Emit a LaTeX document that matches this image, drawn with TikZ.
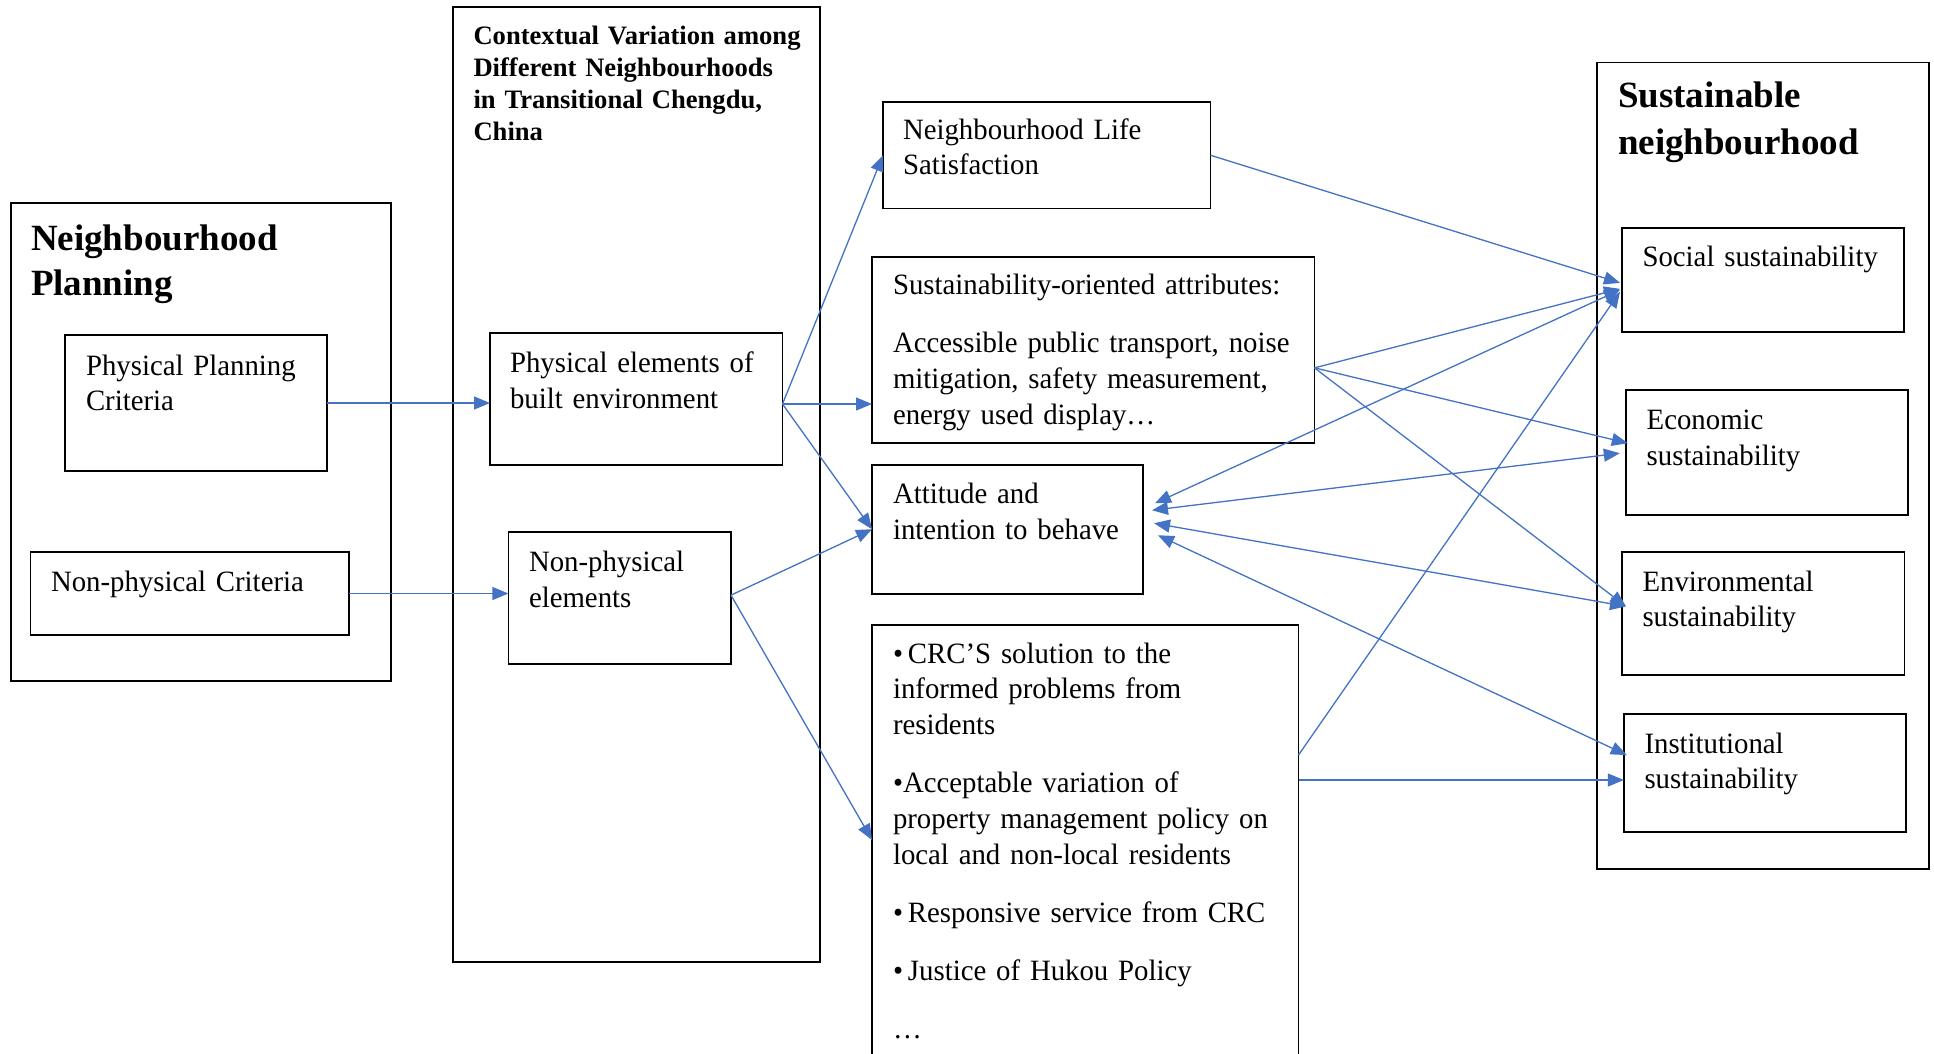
\documentclass[tikz,border=0pt]{standalone}
\usepackage{fontspec}
\setmainfont{Liberation Serif}
\newfontfamily\bodyfont{Liberation Serif}[FakeStretch=0.976]
\usetikzlibrary{arrows.meta,calc}
\definecolor{arrblue}{HTML}{4472C4}
\begin{document}
\begin{tikzpicture}[x=1pt,y=-1pt,
  box/.style={draw=black, line width=1.8pt, rectangle, inner sep=0pt, outer sep=0pt, anchor=north west},
  txt/.style={anchor=base west, inner sep=0pt, outer sep=0pt, align=left, text width=#1, font=\bodyfont\fontsize{29.5}{35.8}\selectfont},
  txt/.default=440pt,
  bigttl/.style={anchor=base west, inner sep=0pt, outer sep=0pt, align=left, text width=360pt, font=\fontsize{37}{#1}\selectfont\bfseries},
  midttl/.style={anchor=base west, inner sep=0pt, outer sep=0pt, align=left, text width=340pt, font=\fontsize{26.6}{32.1}\selectfont\bfseries},
  arr/.style={draw=arrblue, line width=1.3pt, -{Triangle[length=16pt,width=13pt]}},
  darr/.style={draw=arrblue, line width=1.3pt, {Triangle[length=16pt,width=13pt]}-{Triangle[length=16pt,width=13pt]}}
]
\useasboundingbox (0,0) rectangle (1934,1053);
\fill[white] (0,0) rectangle (1934,1053);

% ---------- left group ----------
\node[box, minimum width=380pt, minimum height=478pt] (np) at (11,203) {};
\node[bigttl=45] (npt) at (31,250) {Neighbourhood\\Planning};
\node[box, minimum width=262pt, minimum height=136pt] (ppc) at (65,335) {};
\node[txt] (ppct) at (86,375) {Physical Planning\\Criteria};
\node[box, minimum width=318.5pt, minimum height=83pt] (npc) at (30.5,552) {};
\node[txt] (npct) at (51,591.5) {Non-physical Criteria};

% ---------- middle group ----------
\node[box, minimum width=367pt, minimum height=955pt] (cv) at (453,7) {};
\node[midttl] (cvt) at (473.5,44.6) {Contextual Variation among\\Different Neighbourhoods\\in Transitional Chengdu,\\China};
\node[box, minimum width=292.5pt, minimum height=132pt] (pe) at (490,333) {};
\node[txt] (pet) at (510,372.8) {Physical elements of\\built environment};
\node[box, minimum width=222.6pt, minimum height=131.7pt] (npe) at (508.4,532.3) {};
\node[txt] (npet) at (529,571.4) {Non-physical\\elements};

% ---------- central column ----------
\node[box, minimum width=327.5pt, minimum height=106.5pt] (nls) at (883,102) {};
\node[txt] (nlst) at (903,139) {Neighbourhood Life\\Satisfaction};
\node[box, minimum width=442.5pt, minimum height=186.3pt] (soa) at (872,256.7) {};
\node[txt] (soat) at (893,294.6) {Sustainability-oriented attributes:\\[22.2pt]Accessible public transport, noise\\mitigation, safety measurement,\\energy used display\ldots};
\node[box, minimum width=271pt, minimum height=129.1pt] (att) at (872,464.7) {};
\node[txt] (attt) at (893,503.6) {Attitude and\\intention to behave};
\node[box, minimum width=426.5pt, minimum height=460pt] (crc) at (872,625) {};
\node[txt] (crct) at (893,663) {•\,CRC’S solution to the\\informed problems from\\residents\\[22.2pt]•Acceptable variation of\\property management policy on\\local and non-local residents\\[22.2pt]•\,Responsive service from CRC\\[22.2pt]•\,Justice of Hukou Policy\\[22.2pt]\ldots};

% ---------- right group ----------
\node[box, minimum width=332pt, minimum height=806.8pt] (sn) at (1597,62.5) {};
\node[bigttl=47] (snt) at (1618,107) {Sustainable\\neighbourhood};
\node[box, minimum width=282pt, minimum height=103.7pt] (soc) at (1622,228) {};
\node[txt=260pt] (soct) at (1642.5,266.5) {Social sustainability};
\node[box, minimum width=281.9pt, minimum height=125pt] (eco) at (1625.8,389.7) {};
\node[txt=250pt] (ecot) at (1646.7,429.5) {Economic\\sustainability};
\node[box, minimum width=282.4pt, minimum height=122.4pt] (env) at (1622,552.2) {};
\node[txt=250pt] (envt) at (1642.5,591) {Environmental\\sustainability};
\node[box, minimum width=282.2pt, minimum height=118.5pt] (ins) at (1623.8,713.8) {};
\node[txt=250pt] (inst) at (1644.5,753) {Institutional\\sustainability};

% ---------- connector points ----------
\coordinate (peo) at ([yshift=-5pt]pe.east);
\coordinate (npo) at ([yshift=3pt]npe.east);
\coordinate (soao) at ([yshift=-18pt]soa.east);
\coordinate (crcin) at ([yshift=-215pt]crc.north west);
\coordinate (crco1) at ([yshift=-130pt]crc.north east);
\coordinate (crco2) at ([yshift=-155pt]crc.north east);
\coordinate (attS) at ([xshift=12pt,yshift=26pt]att.east);
\coordinate (attE) at ([xshift=9pt,yshift=19pt]att.east);
\coordinate (attV) at ([xshift=11pt,yshift=6pt]att.east);
\coordinate (attI) at ([xshift=15pt,yshift=-6pt]att.east);
\coordinate (socA) at ([xshift=-2pt,yshift=-3pt]soc.west);
\coordinate (socB) at ([xshift=-2pt,yshift=-9pt]soc.west);
\coordinate (socC) at ([xshift=-2pt,yshift=-10pt]soc.west);
\coordinate (socD) at ([xshift=-2pt,yshift=-12pt]soc.west);
\coordinate (ecoA) at ([xshift=2pt,yshift=9pt]eco.west);
\coordinate (ecoB) at ([xshift=-6pt,yshift=-1pt]eco.west);
\coordinate (envA) at ([xshift=4pt,yshift=7pt]env.west);
\coordinate (insA) at ([xshift=3pt,yshift=18pt]ins.west);

% ---------- connectors ----------
\draw[arr] (ppc.east) -- (ppc.east -| pe.west);
\draw[arr] (npc.east) -- (npc.east -| npe.west);
\draw[arr] (peo) -- (nls.west);
\draw[arr] (peo) -- (peo -| soa.west);
\draw[arr] (peo) -- (att.west);
\draw[arr] (npo) -- (att.west);
\draw[arr] (npo) -- (crcin);
\draw[arr] (nls.east) -- (socA);
\draw[arr] (soao) -- (socB);
\draw[arr] (soao) -- (ecoA);
\draw[arr] (soao) -- (envA);
\draw[darr] (attS) -- (socC);
\draw[darr] (attE) -- (ecoB);
\draw[darr] (attV) -- (envA);
\draw[darr] (attI) -- (insA);
\draw[arr] (crco1) -- (socD);
\draw[arr] (crco2) -- (crco2 -| ins.west);
\end{tikzpicture}
\end{document}
